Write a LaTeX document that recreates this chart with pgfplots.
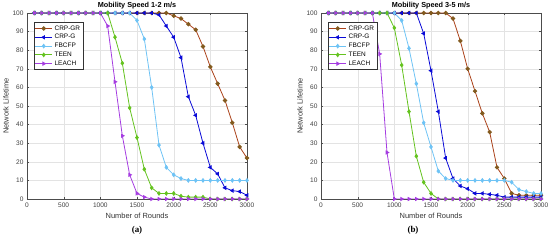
\documentclass[border=0pt]{standalone}
\usepackage{fontspec}
\setmainfont{Liberation Sans}
\newfontfamily\capfont{Liberation Serif}
\usepackage{pgfplots}
\pgfplotsset{compat=1.18}

\definecolor{cgr}{RGB}{170,65,25}
\definecolor{cgrm}{RGB}{130,90,30}
\definecolor{cg}{RGB}{10,10,215}
\definecolor{cfb}{RGB}{110,195,245}
\definecolor{cteen}{RGB}{100,195,30}
\definecolor{cleach}{RGB}{165,60,225}

\pgfplotsset{
  lifeaxis/.style={
    scale only axis, width=220bp, height=186bp,
    xmin=0, xmax=3000, ymin=0, ymax=100,
    xtick={0,500,...,3000}, ytick={0,10,...,100},
    grid=major, grid style={draw=gray!22, line width=0.3pt},
    axis line style={draw=black!70, line width=0.4pt},
    tick style={draw=black!70},
    tick align=inside, tick pos=both,
    major tick length=2bp,
    scaled ticks=false,
    /pgf/number format/assume math mode=true,
    /pgf/number format/1000 sep={},
    tick label style={font=\fontsize{6.6}{7}\selectfont, color=black!75},
    xlabel={Number of Rounds}, ylabel={Network Lifetime},
    label style={font=\fontsize{7.5}{8}\selectfont, color=black!80},
    xlabel style={yshift=1bp},
    ylabel style={yshift=-3bp},
    title style={font=\bfseries\fontsize{7.3}{8}\selectfont, yshift=-5.5bp},
    legend style={at={(0.03,0.95)}, anchor=north west,
      font=\fontsize{6.5}{7}\selectfont, draw=black!80, line width=0.4pt,
      inner sep=1pt, row sep=-1.2pt, cells={anchor=west}},
    legend cell align=left,
    every axis plot/.append style={line width=0.8pt, mark size=1.8bp},
  },
  sGR/.style={color=cgr, mark=*, mark options={fill=cgrm, draw=cgrm}},
  sG/.style={color=cg, mark=triangle*, mark options={rotate=90, fill=cg}},
  sFB/.style={color=cfb, mark=diamond*, mark options={fill=cfb}},
  sTE/.style={color=cteen, mark=diamond*, mark options={fill=cteen}},
  sLE/.style={color=cleach, mark=triangle*, mark options={rotate=-90, fill=cleach}},
}

\begin{document}
\begin{tikzpicture}
\useasboundingbox (0,0) rectangle (550bp,241bp);

\begin{axis}[lifeaxis, at={(27bp,42bp)}, anchor=south west,
  title={Mobility Speed 1-2 m/s}]
\addplot[sGR] coordinates {(100,100)(200,100)(300,100)(400,100)(500,100)(600,100)(700,100)(800,100)(900,100)(1000,100)(1100,100)(1200,100)(1300,100)(1400,100)(1500,100)(1600,100)(1700,100)(1800,100)(1900,100)(2000,98.5)(2100,97)(2200,94)(2300,91)(2400,82)(2500,71)(2600,62)(2700,53)(2800,41)(2900,28)(3000,22)};
\addplot[sG] coordinates {(100,100)(200,100)(300,100)(400,100)(500,100)(600,100)(700,100)(800,100)(900,100)(1000,100)(1100,100)(1200,100)(1300,100)(1400,100)(1500,100)(1600,100)(1700,100)(1800,99)(1900,93)(2000,87)(2100,76)(2200,55)(2300,45)(2400,30)(2500,17)(2600,13.5)(2700,6)(2800,4.5)(2900,4)(3000,2)};
\addplot[sFB] coordinates {(100,100)(200,100)(300,100)(400,100)(500,100)(600,100)(700,100)(800,100)(900,100)(1000,100)(1100,100)(1200,100)(1300,100)(1400,100)(1500,96)(1600,86)(1700,60)(1800,29)(1900,17)(2000,13)(2100,11)(2200,10)(2300,10)(2400,10)(2500,10)(2600,10)(2700,10)(2800,10)(2900,10)(3000,10)};
\addplot[sTE] coordinates {(100,100)(200,100)(300,100)(400,100)(500,100)(600,100)(700,100)(800,100)(900,100)(1000,100)(1100,100)(1200,87)(1300,73)(1400,49)(1500,33)(1600,16)(1700,6)(1800,3)(1900,3)(2000,3)(2100,1.5)(2200,1)(2300,1)(2400,1)(2500,0)(2600,0)(2700,0)(2800,0)(2900,0)(3000,0)};
\addplot[sLE] coordinates {(100,100)(200,100)(300,100)(400,100)(500,100)(600,100)(700,100)(800,100)(900,100)(1000,100)(1100,93)(1200,63)(1300,34)(1400,13)(1500,3)(1600,1)(1700,0)(1800,0)(1900,0)(2000,0)(2100,0)(2200,0)(2300,0)(2400,0)(2500,0)(2600,0)(2700,0)(2800,0)(2900,0)(3000,0)};
\legend{CRP-GR, CRP-G, FBCFP, TEEN, LEACH}
\end{axis}

\begin{axis}[lifeaxis, at={(321bp,42bp)}, anchor=south west,
  title={Mobility Speed 3-5 m/s}]
\addplot[sGR] coordinates {(100,100)(200,100)(300,100)(400,100)(500,100)(600,100)(700,100)(800,100)(900,100)(1000,100)(1100,100)(1200,100)(1300,100)(1400,100)(1500,100)(1600,100)(1700,100)(1800,97)(1900,85)(2000,70)(2100,58)(2200,46)(2300,36)(2400,17)(2500,11)(2600,3)(2700,2)(2800,2)(2900,2)(3000,2)};
\addplot[sG] coordinates {(100,100)(200,100)(300,100)(400,100)(500,100)(600,100)(700,100)(800,100)(900,100)(1000,100)(1100,100)(1200,100)(1300,100)(1400,89)(1500,69)(1600,47)(1700,22)(1800,11)(1900,7)(2000,5.5)(2100,3)(2200,3)(2300,2.5)(2400,2)(2500,1)(2600,1)(2700,1)(2800,1)(2900,1)(3000,1)};
\addplot[sFB] coordinates {(100,100)(200,100)(300,100)(400,100)(500,100)(600,100)(700,100)(800,100)(900,100)(1000,100)(1100,96)(1200,81)(1300,62)(1400,41)(1500,28)(1600,15)(1700,11)(1800,10)(1900,10)(2000,10)(2100,10)(2200,10)(2300,10)(2400,10)(2500,10)(2600,9)(2700,5)(2800,4)(2900,3)(3000,3)};
\addplot[sTE] coordinates {(100,100)(200,100)(300,100)(400,100)(500,100)(600,100)(700,100)(800,100)(900,100)(1000,92)(1100,72)(1200,47)(1300,23)(1400,9)(1500,3)(1600,0)(1700,0)(1800,0)(1900,0)(2000,0)(2100,0)(2200,0)(2300,0)(2400,0)(2500,0)(2600,0)(2700,0)(2800,0)(2900,0)(3000,0)};
\addplot[sLE] coordinates {(100,100)(200,100)(300,100)(400,100)(500,100)(600,100)(700,100)(800,78)(900,25)(1000,0)(1100,0)(1200,0)(1300,0)(1400,0)(1500,0)(1600,0)(1700,0)(1800,0)(1900,0)(2000,0)(2100,0)(2200,0)(2300,0)(2400,0)(2500,0)(2600,0)(2700,0)(2800,0)(2900,0)(3000,0)};
\legend{CRP-GR, CRP-G, FBCFP, TEEN, LEACH}
\end{axis}

\node[font=\capfont\bfseries\fontsize{9}{10}\selectfont] at (137bp,11bp) {(a)};
\node[font=\capfont\bfseries\fontsize{9}{10}\selectfont] at (413bp,11bp) {(b)};
\end{tikzpicture}
\end{document}
